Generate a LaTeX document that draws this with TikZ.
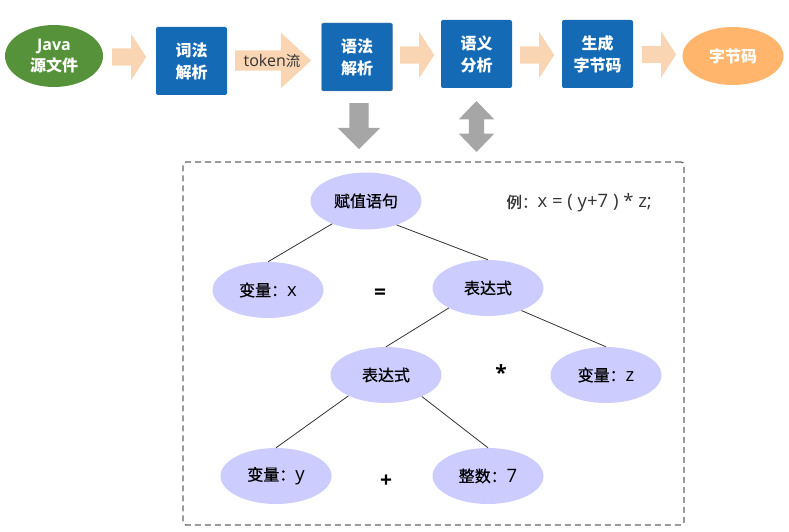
\documentclass[tikz,border=0pt]{standalone}
\usepackage{xcolor}
\usepackage{fontspec}
\setmainfont{Noto Sans CJK SC}
\newfontfamily\lat{Open Sans}
\newfontfamily\cjkmid[FakeBold=0.8]{Noto Sans CJK SC}
\newcommand\latbig[1]{{\fontsize{18.5}{20}\selectfont\lat #1}}
\usetikzlibrary{shapes.geometric, shapes.arrows, positioning}

\definecolor{javagreen}{HTML}{56923A}
\definecolor{stageblue}{HTML}{156AB6}
\definecolor{codeorange}{HTML}{FFB56B}
\definecolor{peach}{HTML}{F9D5B3}
\definecolor{lavender}{HTML}{CCCCFF}
\definecolor{arrowgray}{HTML}{A6A6A6}

\begin{document}
\begin{tikzpicture}[x=1pt, y=-1pt,
        stage/.style={rectangle, rounded corners=2pt, fill=stageblue, text=white, align=center,
            font=\fontsize{16}{22}\selectfont\bfseries, minimum width=71pt, minimum height=68pt, inner sep=0pt},
        flow/.style={single arrow, fill=peach, anchor=tail, inner sep=0pt, inner ysep=8.5pt,
            single arrow head extend=14.5pt, single arrow tip angle=114, minimum height=34pt},
        leaf/.style={ellipse, fill=lavender, inner sep=0pt, minimum width=111pt, minimum height=56pt,
            font=\fontsize{16}{20}\selectfont\cjkmid},
        op/.style={font=\fontsize{21}{22}\selectfont\lat\bfseries}]
        \useasboundingbox (0,0) rectangle (789,532);
%
        \node[ellipse, fill=javagreen, text=white, align=center, inner sep=0pt,
            minimum width=98pt, minimum height=62pt, font=\fontsize{16}{21}\selectfont\bfseries] (java) at (54,56) {{\lat Java}\\源文件};
        \node[stage] (lex) at (191.5,61) {词法\\解析};
        \node[stage, draw=gray] (syn) at (357,57) {语法\\解析};
        \node[stage] (sem) at (476.5,54) {语义\\分析};
        \node[stage] (gen) at (597.5,54) {生成\\字节码};
        \node[ellipse, fill=codeorange, text=white, inner sep=0pt,
            minimum width=101pt, minimum height=58pt, font=\fontsize{16}{20}\selectfont\bfseries] (out) at (733,56) {字节码};
%
        \node[flow] (a1) at (112,57) {};
        \node[flow, inner ysep=10pt, single arrow head extend=17.5pt, single arrow tip angle=85,
            minimum height=76pt] (a2) at (235,60.5) {};
        \node[font=\fontsize{14.5}{16}\selectfont, text=black!80] (tok) at (272,61) {{\fontsize{16}{16}\selectfont\lat token}流};
        \node[flow] (a3) at (400,55) {};
        \node[flow] (a4) at (520,55) {};
        \node[flow] (a5) at (642,54.5) {};
%
        \node[draw=black!60, dash pattern=on 6pt off 4pt, line width=1.3pt, rounded corners=3pt,
            minimum width=501pt, minimum height=363pt] (tree) at (433.5,343.5) {};
        \node[single arrow, fill=arrowgray, rotate=-90, anchor=tail, inner sep=0pt, inner ysep=9.5pt,
            single arrow head extend=11.5pt, single arrow tip angle=90, minimum height=46pt] (down) at (359,103) {};
        \node[double arrow, fill=arrowgray, rotate=90, inner sep=0pt, inner ysep=7.5pt,
            double arrow head extend=10pt, double arrow tip angle=88, minimum height=51pt] (both) at (476.5,126.5) {};
%
        \node[leaf, minimum height=57pt] (S) at (366,201) {赋值语句};
        \node[leaf] (X) at (268,290) {变量：\latbig{x}};
        \node[leaf] (E) at (488,288) {表达式};
        \node[leaf] (F) at (386,375) {表达式};
        \node[leaf] (Z) at (606,375) {变量：\latbig{z}};
        \node[leaf] (Y) at (276,476) {变量：\latbig{y}};
        \node[leaf] (N) at (488,476) {整数：\latbig{7}};
        \node[op] (eq) at (380,294) {=};
        \node[op] (mul) at (501,373) {*};
        \node[op] (add) at (386,481) {+};
        \node[anchor=west, text=black!80, font=\fontsize{15.5}{18}\selectfont\cjkmid] (ex) at (503,203) {例：\latbig{x = ( y+7 ) * z;}};
%
        \path[draw=black!80, line width=0.8pt]
        (S.214) edge (X.north)
        (S.322) edge (E.north)
        (E.207) edge (F.north)
        (E.326) edge (Z.north)
        (F.209) edge (Y.north)
        (F.329) edge (N.north);
\end{tikzpicture}
\end{document}
